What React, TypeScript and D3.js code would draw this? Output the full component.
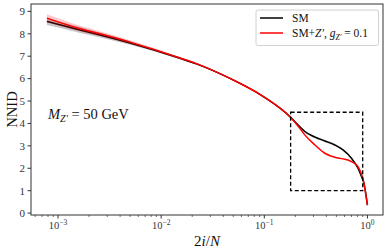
import { useEffect } from "react";
import * as d3 from "d3";

// 2i/N sample positions
const FRACTIONS = [
  0.00078, 0.0016, 0.0025, 0.005, 0.015, 0.022, 0.046, 0.098, 0.177, 0.22,
  0.247, 0.31, 0.386, 0.483, 0.58, 0.7, 0.81, 0.89, 0.91, 1.0,
];
const NNID_SM = [
  8.55, 8.18, 7.96, 7.59, 6.92, 6.66, 6.02, 5.2, 4.31, 3.86, 3.64, 3.39, 3.22,
  3.04, 2.82, 2.45, 2.0, 1.55, 1.45, 0.36,
];
const NNID_SM_ERR = [
  0.16, 0.13, 0.11, 0.08, 0.05, 0.04, 0.03, 0.02, 0.02, 0.04, 0.05, 0.05, 0.05,
  0.05, 0.04, 0.03, 0.02, 0.02, 0.01, 0.01,
];
const NNID_ZP = [
  8.7, 8.24, 8.01, 7.63, 6.93, 6.67, 6.02, 5.2, 4.3, 3.8, 3.49, 3.04, 2.67,
  2.49, 2.42, 2.3, 2.07, 1.63, 1.47, 0.36,
];
const NNID_ZP_ERR = [
  0.17, 0.13, 0.11, 0.08, 0.04, 0.03, 0.02, 0.02, 0.02, 0.02, 0.02, 0.02, 0.02,
  0.02, 0.02, 0.02, 0.02, 0.02, 0.01, 0.01,
];
const Y_TICKS = [0, 1, 2, 3, 4, 5, 6, 7, 8, 9];
const X_DECADES = [-3, -2, -1, 0];
const ZOOM_BOX_X = [0.18, 0.9];
const ZOOM_BOX_Y = [1.0, 4.5];

const WIDTH = 389;
const HEIGHT = 252;
const MARGIN = { left: 31, right: 6, top: 4, bottom: 37 };
const FONT = "'Liberation Serif', 'DejaVu Serif', serif";
const TICK_COLOR = "#333";

export default function App() {
  useEffect(() => {
    document.body.style.margin = "0";
  }, []);

  const x = d3
    .scaleLog()
    .domain([10 ** -3.262, 10 ** 0.151])
    .range([MARGIN.left, WIDTH - MARGIN.right]);
  const y = d3
    .scaleLinear()
    .domain([-0.085, 9.33])
    .range([HEIGHT - MARGIN.bottom, MARGIN.top]);

  const line = (vals: number[]) =>
    d3
      .line<number>()
      .x((_, i) => x(FRACTIONS[i]))
      .y((d) => y(d))
      .curve(d3.curveMonotoneX)(vals)!;
  const band = (vals: number[], err: number[]) =>
    d3
      .area<number>()
      .x((_, i) => x(FRACTIONS[i]))
      .y0((d, i) => y(d - err[i]))
      .y1((d, i) => y(d + err[i]))
      .curve(d3.curveMonotoneX)(vals)!;

  const minorTicks: number[] = [];
  for (let e = -4; e <= 0; e++) {
    for (let m = 2; m <= 9; m++) {
      const v = m * 10 ** e;
      if (v >= x.domain()[0] && v <= x.domain()[1]) minorTicks.push(v);
    }
  }

  const bottom = HEIGHT - MARGIN.bottom;
  const left = MARGIN.left;

  return (
    <svg
      width={WIDTH}
      height={HEIGHT}
      style={{ display: "block", background: "#fff" }}
      fontFamily={FONT}
    >
      {/* bands and lines */}
      <path d={band(NNID_SM, NNID_SM_ERR)} fill="rgba(0,0,0,0.22)" />
      <path d={line(NNID_SM)} fill="none" stroke="#000" strokeWidth={1.5} />
      <path d={band(NNID_ZP, NNID_ZP_ERR)} fill="rgba(255,0,0,0.22)" />
      <path d={line(NNID_ZP)} fill="none" stroke="#f00" strokeWidth={1.5} />

      {/* zoom box */}
      <rect
        x={x(ZOOM_BOX_X[0])}
        y={y(ZOOM_BOX_Y[1])}
        width={x(ZOOM_BOX_X[1]) - x(ZOOM_BOX_X[0])}
        height={y(ZOOM_BOX_Y[0]) - y(ZOOM_BOX_Y[1])}
        fill="none"
        stroke="#000"
        strokeWidth={1.3}
        strokeDasharray="4,2.5"
      />

      {/* frame */}
      <rect
        x={left}
        y={MARGIN.top}
        width={WIDTH - MARGIN.right - left}
        height={bottom - MARGIN.top}
        fill="none"
        stroke={TICK_COLOR}
        strokeWidth={1}
      />

      {/* y ticks */}
      {Y_TICKS.map((t) => (
        <g key={`y${t}`}>
          <line x1={left - 3.5} x2={left} y1={y(t)} y2={y(t)} stroke={TICK_COLOR} />
          <text
            x={left - 6}
            y={y(t)}
            dy="0.35em"
            textAnchor="end"
            fontSize={11}
            fill="#333"
          >
            {t}
          </text>
        </g>
      ))}

      {/* x ticks */}
      {minorTicks.map((t, i) => (
        <line
          key={`m${i}`}
          x1={x(t)}
          x2={x(t)}
          y1={bottom}
          y2={bottom + 2}
          stroke={TICK_COLOR}
          strokeWidth={0.7}
        />
      ))}
      {X_DECADES.map((e) => (
        <g key={`x${e}`}>
          <line
            x1={x(10 ** e)}
            x2={x(10 ** e)}
            y1={bottom}
            y2={bottom + 3.5}
            stroke={TICK_COLOR}
          />
          <text x={x(10 ** e)} y={bottom + 14} textAnchor="middle" fontSize={10.5} fill="#333">
            10
            <tspan fontSize={7.5} dy={-4.5}>
              {e < 0 ? `\u2212${-e}` : `${e}`}
            </tspan>
          </text>
        </g>
      ))}

      {/* axis labels */}
      <text
        x={(left + WIDTH - MARGIN.right) / 2}
        y={HEIGHT - 6}
        textAnchor="middle"
        fontSize={15}
        fill="#111"
      >
        2<tspan fontStyle="italic">i</tspan>/<tspan fontStyle="italic">N</tspan>
      </text>
      <text
        transform={`translate(17,${(MARGIN.top + bottom) / 2}) rotate(-90)`}
        textAnchor="middle"
        fontSize={14.5}
        fill="#111"
      >
        NNID
      </text>

      {/* annotation */}
      <text x={48} y={119} fontSize={14.5} fill="#111">
        <tspan fontStyle="italic">M</tspan>
        <tspan fontStyle="italic" fontSize={10} dy={3}>
          Z′
        </tspan>
        <tspan dy={-3}> = 50 GeV</tspan>
      </text>

      {/* legend */}
      <rect x={256} y={10} width={122.5} height={35.5} rx={2} fill="#fff" fillOpacity={0.85} stroke="#d0d0d0" />
      <line x1={260} x2={283} y1={18} y2={18} stroke="#000" strokeWidth={1.5} />
      <line x1={260} x2={283} y1={33} y2={33} stroke="#f00" strokeWidth={1.5} />
      <text x={292} y={18} dy="0.35em" fontSize={11.5} fill="#111">
        SM
      </text>
      <text x={292} y={33} dy="0.35em" fontSize={11.5} fill="#111">
        SM+<tspan fontStyle="italic">Z′</tspan>,{" "}
        <tspan fontStyle="italic">g</tspan>
        <tspan fontStyle="italic" fontSize={7.5} dy={2.5}>
          Z′
        </tspan>
        <tspan dy={-2.5}> = 0.1</tspan>
      </text>
    </svg>
  );
}
